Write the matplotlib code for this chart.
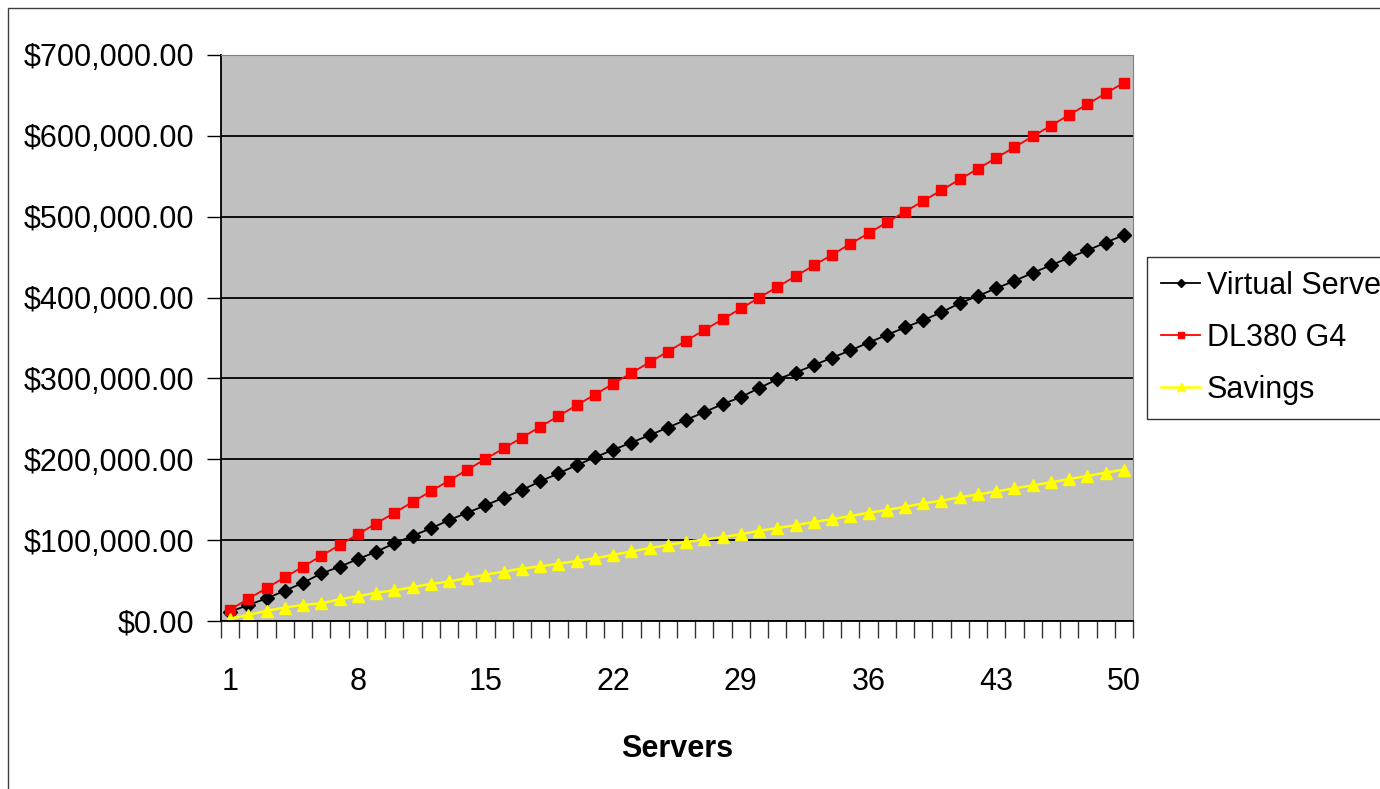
import matplotlib
matplotlib.use("Agg")
import matplotlib.pyplot as plt
from matplotlib.patches import Rectangle
from matplotlib.ticker import FuncFormatter, FixedLocator
from matplotlib import font_manager
import numpy as np

# Excel-ish narrow text if the narrow face is around, plain Arial-like otherwise
installed = {f.name for f in font_manager.fontManager.ttflist}
if 'Liberation Sans Narrow' in installed:
    plt.rcParams['font.family'] = ['Liberation Sans Narrow', 'DejaVu Sans']
    fs = 25
else:
    plt.rcParams['font.family'] = ['Liberation Sans', 'DejaVu Sans']
    fs = 22

# number of servers (categories 1..50)
servers = list(range(1, 51))

# values
virtual_server = [11500, 19800, 28000, 37400, 47300, 58800, 67100, 76500, 85600, 95900,
                  105300, 114500, 124800, 133900, 143000, 152500, 162000, 172700, 182600, 192600,
                  202500, 211600, 220700, 229800, 239300, 248800, 258300, 268200, 276900, 288000,
                  299000, 307300, 316300, 325600, 334600, 344300, 353700, 363000, 372000, 381800,
                  393000, 402000, 411500, 420600, 430500, 439900, 449400, 458400, 467900, 477400]

dl380_g4 = [14100, 27400, 40700, 54000, 67300, 80600, 93900, 107200, 120500, 133800,
            147100, 160400, 173700, 187000, 200300, 213600, 226900, 240200, 253500, 266800,
            280100, 293400, 306700, 320000, 333300, 346600, 359900, 373200, 386500, 399800,
            413100, 426400, 439700, 453000, 466300, 479600, 492900, 506200, 519500, 532800,
            546100, 559400, 572700, 586000, 599300, 612600, 625900, 639200, 652500, 665800]

savings = [3000, 7600, 12700, 16600, 20000, 21800, 26800, 30700, 34900, 37900,
           41800, 45900, 48900, 53100, 57300, 61100, 64900, 67500, 70900, 74200,
           77600, 81800, 86000, 90200, 94000, 97800, 100800, 103700, 107400, 111600,
           114900, 118600, 122300, 126000, 129800, 133900, 137200, 141300, 145500, 148800,
           152900, 156600, 160300, 164000, 167800, 171500, 175600, 179300, 183500, 187200]

x_labels = [1, 8, 15, 22, 29, 36, 43, 50]

fig = plt.figure(figsize=(13.8, 7.89), dpi=100)
ax = fig.add_axes([221 / 1380, 1 - 621 / 789, 912 / 1380, 566 / 789])
ax.set_facecolor('#C0C0C0')

# outer chart frame
fig.patches.append(Rectangle((8 / 1380, -0.05), 1.2, 1 - 8 / 789 + 0.05,
                             transform=fig.transFigure, fill=False,
                             edgecolor='#404040', linewidth=1.0))

ax.plot(servers, virtual_server, color='black', marker='D', markersize=7.5,
        linewidth=1.3, label='Virtual Server')
ax.plot(servers, dl380_g4, color='#FF0000', marker='s', markersize=6.5,
        linewidth=1.3, label='DL380 G4')
ax.plot(servers, savings, color='#FFFF00', marker='^', markersize=8.5,
        linewidth=1.8, label='Savings')

ax.set_xlim(0.5, 50.5)
ax.set_ylim(0, 700000)
ax.set_yticks(np.arange(0, 700001, 100000))
ax.yaxis.set_major_formatter(FuncFormatter(lambda v, p: '${:,.2f}'.format(v)))
ax.grid(axis='y', color='black', linewidth=1.3)
ax.set_axisbelow(True)

ax.set_xticks(x_labels)
ax.set_xticklabels([str(v) for v in x_labels])
ax.xaxis.set_minor_locator(FixedLocator(np.arange(0.5, 51, 1)))
ax.tick_params(axis='x', which='major', length=0, pad=33, labelsize=fs)
ax.tick_params(axis='x', which='minor', length=12, width=1, color='#333333', direction='out')
ax.tick_params(axis='y', which='major', length=10, width=1, pad=9, labelsize=fs,
               direction='out')

for side in ['top', 'right']:
    ax.spines[side].set_color('#808080')
ax.spines['left'].set_color('black')
ax.spines['bottom'].set_color('black')
ax.spines['left'].set_linewidth(1.3)
ax.spines['bottom'].set_linewidth(1.3)

ax.set_xlabel('Servers', fontsize=fs, fontweight='bold', labelpad=27)

# legend runs past the right edge like in the original export
leg = fig.legend(loc='upper left', bbox_to_anchor=(1147 / 1380, 1 - 257 / 789),
                 borderaxespad=0, fontsize=fs, frameon=True, fancybox=False,
                 markerscale=0.6, handlelength=1.3, handletextpad=0.2,
                 labelspacing=0.72, borderpad=0.45)
leg.get_frame().set_edgecolor('black')
leg.get_frame().set_linewidth(1.0)

fig.savefig('out.png', dpi=100)
